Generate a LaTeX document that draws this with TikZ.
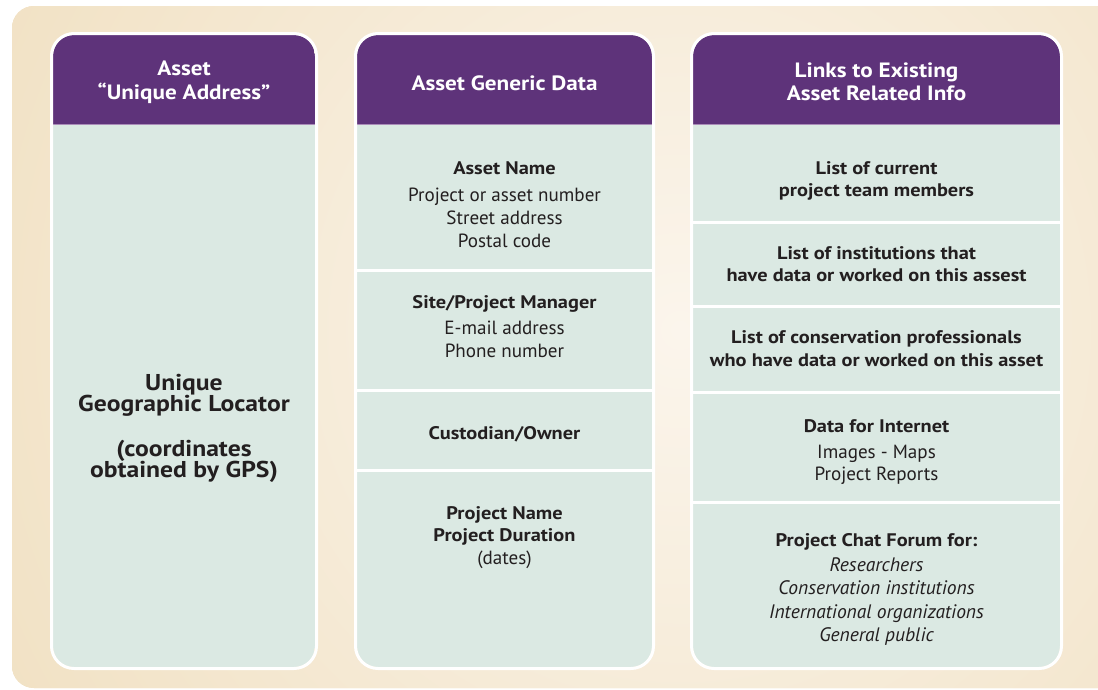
\documentclass[tikz,border=0pt]{standalone}
\usepackage{fontspec}
\setmainfont{PT Sans}[BoldFeatures={FakeStretch=1.12}]
\definecolor{hdr}{RGB}{94,51,122}
\definecolor{hdrline}{RGB}{170,140,185}
\definecolor{bodyc}{RGB}{219,233,227}
\definecolor{bgdark}{RGB}{240,223,191}
\definecolor{bglight}{RGB}{251,245,236}
\definecolor{txt}{RGB}{35,31,32}
\newcommand\mycolumn[2]{%
  \begin{scope}
    \clip[rounded corners=21] (#1,35) rectangle (#2,667);
    \fill[bodyc] (#1,35) rectangle (#2,667);
    \fill[hdr] (#1,35) rectangle (#2,124);
    \draw[hdrline, line width=1] (#1,124.5) -- (#2,124.5);
  \end{scope}
  \draw[white, line width=3, rounded corners=22.5] (#1-1.5,33.5) rectangle (#2+1.5,668.5);
}
\tikzset{
  divider/.style={white, line width=3},
  tx/.style={anchor=base, inner sep=0, text=txt, font=\fontsize{19.1}{23}\selectfont},
  tb/.style={tx, font=\bfseries\fontsize{18.2}{22}\selectfont},
  ti/.style={tx, font=\itshape\fontsize{19.5}{23}\selectfont},
  tbig/.style={tx, font=\bfseries\fontsize{22.9}{26}\selectfont},
  th/.style={anchor=base, inner sep=0, text=white, font=\bfseries\fontsize{20.7}{24}\selectfont}
}
\begin{document}
\begin{tikzpicture}[x=1pt,y=-1pt]
\useasboundingbox (0,0) rectangle (1098,689);
% background
\begin{scope}
  \clip (0,0) rectangle (1098,689);
  \fill[bgdark, rounded corners=22] (12,6) rectangle (1140,688);
  \clip[rounded corners=22] (12,6) rectangle (1140,688);
  \shade[inner color=bglight, outer color=bgdark] (680,330) circle[radius=860pt];
\end{scope}
% columns
\mycolumn{53}{315}
\mycolumn{357}{652}
\mycolumn{693}{1060}
% dividers column 2
\draw[divider] (357,270) -- (652,270);
\draw[divider] (357,390) -- (652,390);
\draw[divider] (357,470) -- (652,470);
% dividers column 3
\draw[divider] (693,222) -- (1060,222);
\draw[divider] (693,306) -- (1060,306);
\draw[divider] (693,392) -- (1060,392);
\draw[divider] (693,502) -- (1060,502);
% headers
\node[th] (h1a) at (184,75) {Asset};
\node[th] (h1b) at (184,99) {“Unique Address”};
\node[th] (h2) at (504.5,90) {Asset Generic Data};
\node[th] (h3a) at (876.5,77) {Links to Existing};
\node[th] (h3b) at (876.5,100) {Asset Related Info};
% column 1 body
\node[tbig] (g1) at (184,390) {Unique};
\node[tbig] (g2) at (184,411) {Geographic Locator};
\node[tbig] (g3) at (184,456) {(coordinates};
\node[tbig] (g4) at (184,477) {obtained by GPS)};
% column 2 body
\node[tb] (a1) at (504.5,174) {Asset Name};
\node[tx] (a2) at (504.5,201) {Project or asset number};
\node[tx] (a3) at (504.5,224) {Street address};
\node[tx] (a4) at (504.5,247.5) {Postal code};
\node[tb] (b1) at (504.5,308) {Site/Project Manager};
\node[tx] (b2) at (504.5,334) {E-mail address};
\node[tx] (b3) at (504.5,357) {Phone number};
\node[tb] (c1) at (504.5,439) {Custodian/Owner};
\node[tb] (d1) at (504.5,519) {Project Name};
\node[tb] (d2) at (504.5,541) {Project Duration};
\node[tx] (d3) at (504.5,564) {(dates)};
% column 3 body
\node[tb] (e1) at (876.5,174) {List of current};
\node[tb] (e2) at (876.5,196) {project team members};
\node[tb] (f1) at (876.5,259) {List of institutions that};
\node[tb] (f2) at (876.5,281) {have data or worked on this assest};
\node[tb] (k1) at (876.5,343) {List of conservation professionals};
\node[tb] (k2) at (876.5,366) {who have data or worked on this asset};
\node[tb] (m1) at (876.5,432) {Data for Internet};
\node[tx] (m2) at (876.5,458) {Images - Maps};
\node[tx] (m3) at (876.5,480) {Project Reports};
\node[tb] (p1) at (876.5,546) {Project Chat Forum for:};
\node[ti] (p2) at (876.5,571) {Researchers};
\node[ti] (p3) at (876.5,594) {Conservation institutions};
\node[ti] (p4) at (876.5,618) {International organizations};
\node[ti] (p5) at (876.5,641) {General public};
\end{tikzpicture}
\end{document}
